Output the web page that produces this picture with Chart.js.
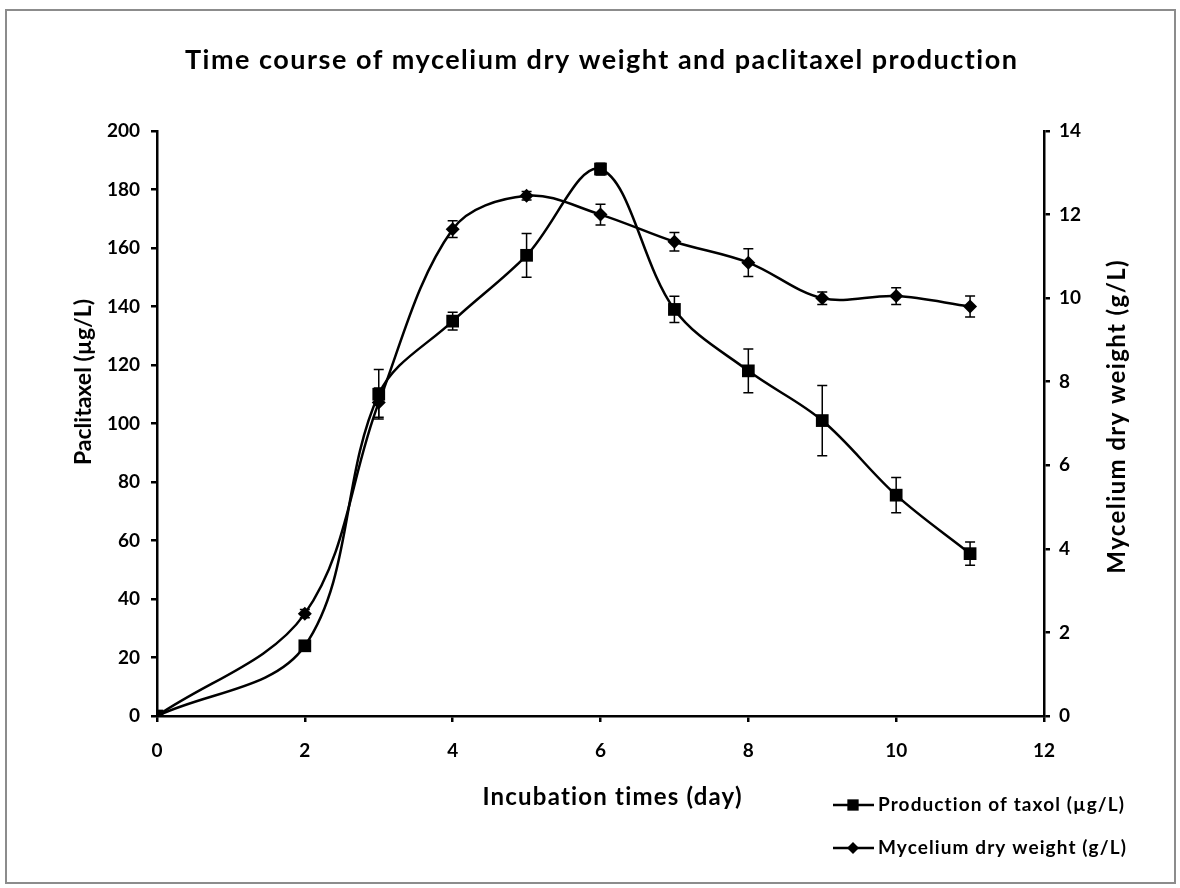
<!DOCTYPE html>
<html>
<head>
<meta charset="utf-8">
<script src="https://cdn.jsdelivr.net/npm/chart.js@4.4.1/dist/chart.umd.min.js"></script>
<style>
  html, body { margin: 0; padding: 0; background: #fff; }
  canvas { display: block; }
</style>
</head>
<body>
<canvas id="myChart" width="1180" height="888"></canvas>
<script>
// values
const days = [0, 2, 3, 4, 5, 6, 7, 8, 9, 10, 11];
const taxol = [0, 24, 110, 135, 157.5, 187, 139, 118, 101, 75.5, 55.5];
const taxolErr = [0, 1, 8.5, 3, 7.5, 2, 4.5, 7.5, 12, 6, 4];
const mycelium = [0, 2.45, 7.5, 11.65, 12.45, 12.0, 11.35, 10.85, 10.0, 10.05, 9.8];
const myceliumErr = [0, 0.1, 0.35, 0.2, 0.1, 0.25, 0.22, 0.33, 0.15, 0.2, 0.25];

const seriesNames = ['Production of taxol (\u00b5g/L)', 'Mycelium dry weight (g/L)'];
const chartTitle = 'Time course of mycelium dry weight and paclitaxel production';
const xTitle = 'Incubation times (day)';
const yTitle = 'Paclitaxel (\u00b5g/L)';
const y1Title = 'Mycelium dry weight (g/L)';

Chart.defaults.font.family = 'Lato, sans-serif';
Chart.defaults.font.weight = 'bold';
Chart.defaults.color = '#000';

function pts(vals) {
    return days.map((d, i) => ({x: d, y: vals[i]}));
}

function label(c, text, x, y, rot, size, spacing) {
    c.save();
    c.translate(x, y);
    c.rotate(rot);
    c.font = 'bold ' + size + 'px Lato, sans-serif';
    if ('letterSpacing' in c) c.letterSpacing = spacing + 'px';
    c.fillStyle = '#000';
    c.textAlign = 'center';
    c.textBaseline = 'middle';
    c.fillText(text, spacing / 2, 0);
    c.restore();
}

// outer grey frame
const framePlugin = {
    id: 'frame',
    beforeDraw(chart) {
        const c = chart.ctx;
        c.save();
        c.strokeStyle = '#8c8c8c';
        c.lineWidth = 2;
        c.strokeRect(6, 10, 1169, 873);
        c.restore();
    }
};

// vertical error bars with caps
const errorBars = {
    id: 'errorBars',
    afterDatasetsDraw(chart) {
        const c = chart.ctx;
        c.save();
        c.strokeStyle = '#000';
        c.lineWidth = 1.5;
        chart.data.datasets.forEach((ds, di) => {
            const meta = chart.getDatasetMeta(di);
            const sc = chart.scales[ds.yAxisID];
            meta.data.forEach((pt, i) => {
                const e = ds.errors[i];
                if (!e) return;
                const v = ds.data[i].y;
                const top = sc.getPixelForValue(v + e);
                const bot = sc.getPixelForValue(v - e);
                c.beginPath();
                c.moveTo(pt.x, top); c.lineTo(pt.x, bot);
                c.moveTo(pt.x - 5, top); c.lineTo(pt.x + 5, top);
                c.moveTo(pt.x - 5, bot); c.lineTo(pt.x + 5, bot);
                c.stroke();
            });
        });
        c.restore();
    }
};

// titles (Excel style placement) and legend in the bottom right corner
const texts = {
    id: 'texts',
    afterDraw(chart) {
        const c = chart.ctx;
        const a = chart.chartArea;
        label(c, chartTitle, 601, 60, 0, 27, 1.5);
        label(c, xTitle, 612, 797, 0, 24, 1.2);
        label(c, yTitle, a.left - 73, 382, -Math.PI / 2, 23, 0);
        label(c, y1Title, a.right + 73, 417, -Math.PI / 2, 24, 1.4);

        const rows = [805, 848];
        c.save();
        chart.data.datasets.forEach((ds, i) => {
            const y = rows[i];
            c.strokeStyle = '#000';
            c.lineWidth = 2.5;
            c.beginPath();
            c.moveTo(833, y); c.lineTo(874, y);
            c.stroke();
            c.fillStyle = '#000';
            Chart.helpers.drawPoint(c, {pointStyle: ds.pointStyle, radius: ds.pointRadius - 1, borderWidth: 0}, 853, y);
            c.font = 'bold 19px Lato, sans-serif';
            if ('letterSpacing' in c) c.letterSpacing = '1.1px';
            c.textBaseline = 'middle';
            c.textAlign = 'left';
            c.fillText(seriesNames[i], 878, y);
        });
        c.restore();
    }
};

const ctx = document.getElementById('myChart');
const PLOT = new Chart(ctx, {
    type: 'line',
    data: {
        datasets: [{
            label: seriesNames[0],
            data: pts(taxol),
            errors: taxolErr,
            borderColor: '#000',
            backgroundColor: '#000',
            borderWidth: 2.5,
            pointStyle: 'rect',
            pointRadius: 9,
            pointBorderWidth: 0,
            tension: 0.35,
            yAxisID: 'y'
        }, {
            label: seriesNames[1],
            data: pts(mycelium),
            errors: myceliumErr,
            borderColor: '#000',
            backgroundColor: '#000',
            borderWidth: 2.5,
            pointStyle: 'rectRot',
            pointRadius: 7,
            pointBorderWidth: 0,
            tension: 0.35,
            yAxisID: 'y1'
        }]
    },
    options: {
        responsive: false,
        animation: false,
        layout: {padding: {left: 72, right: 50, top: 131, bottom: 76}},
        plugins: {
            legend: {display: false},
            tooltip: {enabled: false},
            title: {display: false}
        },
        scales: {
            x: {
                type: 'linear',
                min: 0,
                max: 12,
                afterFit: s => { s.height = 96; },
                ticks: {stepSize: 2, font: {size: 19}, padding: 17, color: '#000'},
                grid: {display: true, drawOnChartArea: false, drawTicks: true, tickLength: 6, color: '#000', lineWidth: 2.5},
                border: {display: true, color: '#000', width: 2.5}
            },
            y: {
                position: 'left',
                min: 0,
                max: 200,
                afterFit: s => { s.width = 85; },
                ticks: {stepSize: 20, font: {size: 19}, padding: 11, color: '#000'},
                grid: {display: true, drawOnChartArea: false, drawTicks: true, tickLength: 6, color: '#000', lineWidth: 2.5},
                border: {display: true, color: '#000', width: 2.5}
            },
            y1: {
                position: 'right',
                min: 0,
                max: 14,
                afterFit: s => { s.width = 86; },
                ticks: {stepSize: 2, font: {size: 19}, padding: 9, color: '#000'},
                grid: {display: true, drawOnChartArea: false, drawTicks: true, tickLength: 6, color: '#000', lineWidth: 2.5},
                border: {display: true, color: '#000', width: 2.5}
            }
        }
    },
    plugins: [framePlugin, errorBars, texts]
});
</script>
</body>
</html>
